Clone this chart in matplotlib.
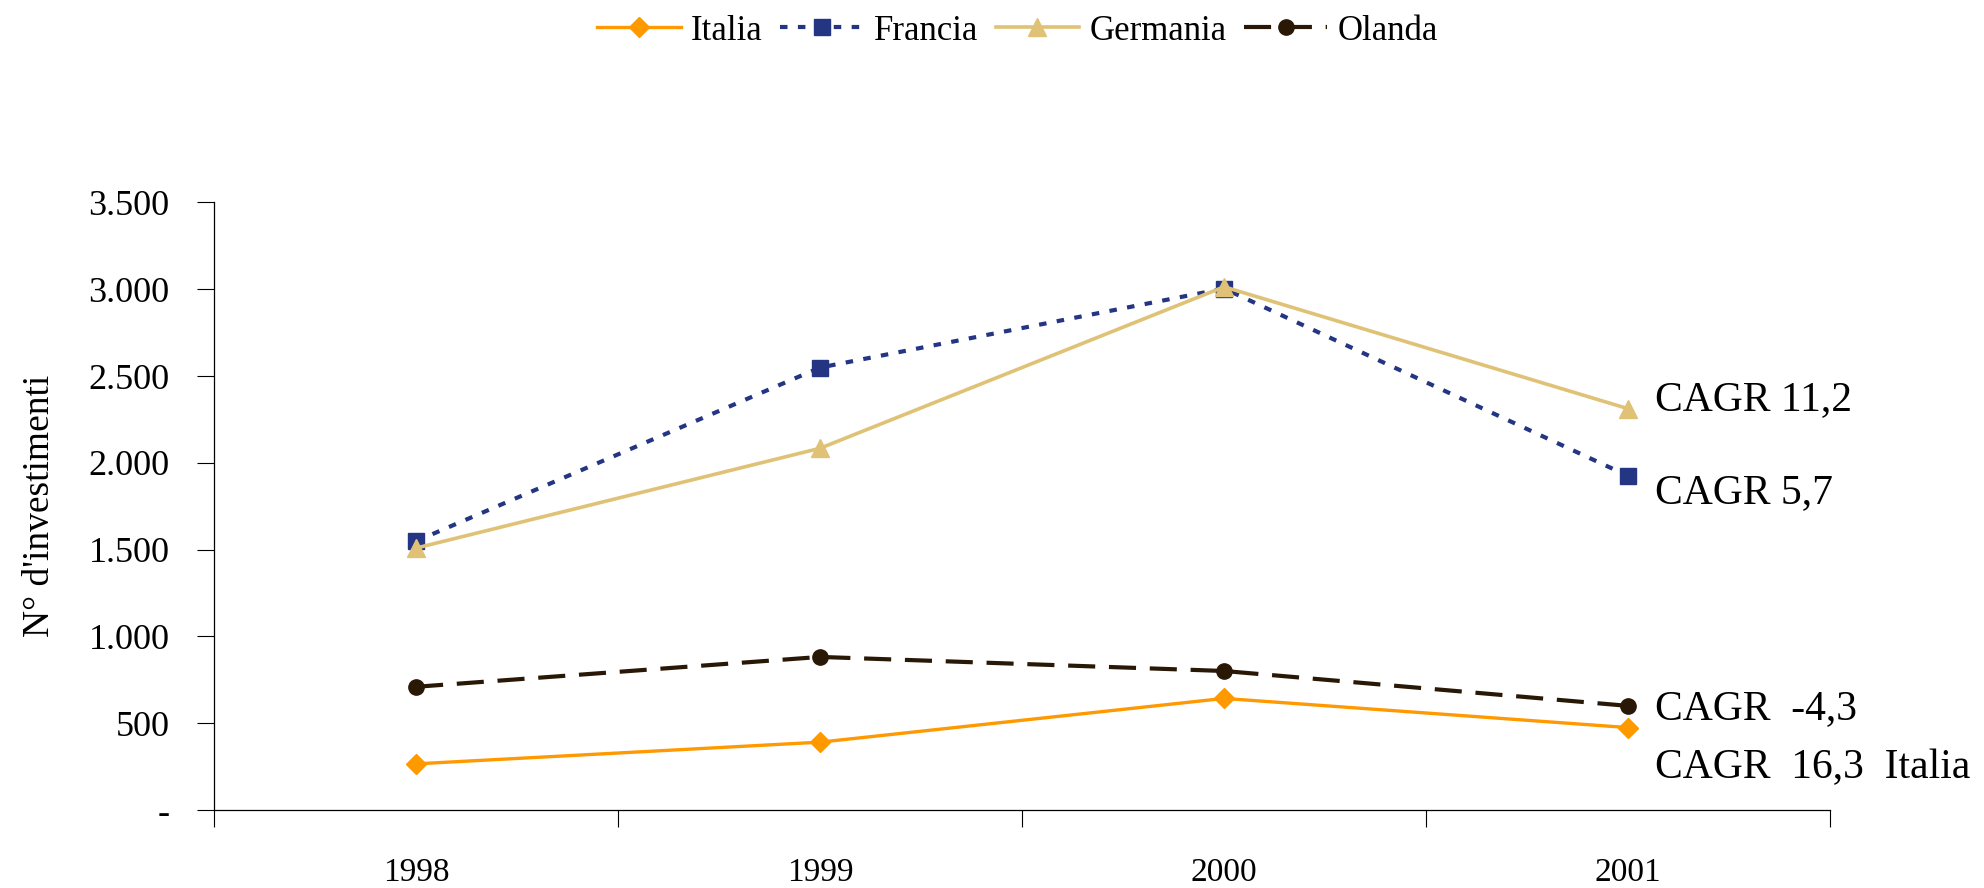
import matplotlib
matplotlib.use('Agg')
import matplotlib.pyplot as plt
from matplotlib.ticker import FixedLocator, FuncFormatter

plt.rcParams['font.family'] = ['Liberation Serif', 'DejaVu Serif']

# Data
anni = ['1998', '1999', '2000', '2001']
italia = [266, 391, 643, 475]
francia = [1549, 2549, 3004, 1925]
germania = [1509, 2084, 3014, 2312]
olanda = [710, 882, 801, 600]

# CAGR labels next to the last year
cagr_testi = ['CAGR 11,2', 'CAGR 5,7', 'CAGR  -4,3', 'CAGR  16,3  Italia']
cagr_y = [2362, 1826, 582, 242]

x = list(range(len(anni)))

fig = plt.figure(figsize=(19.84, 8.88), dpi=100)
ax = fig.add_axes([0.1079, 0.0878, 0.8145, 0.6842])

ax.plot(x, italia, color='#FF9900', lw=2.4, marker='D', ms=10,
        label='Italia')
ax.plot(x, francia, color='#233583', lw=3.0, marker='s', ms=11.5,
        dashes=(1.8, 2.5), label='Francia')
ax.plot(x, germania, color='#DFC276', lw=2.6, marker='^', ms=13,
        label='Germania')
ax.plot(x, olanda, color='#2A1806', lw=3.0, marker='o', ms=11,
        dashes=(6.5, 3.3), label='Olanda')

for testo, yv in zip(cagr_testi, cagr_y):
    ax.text(3.067, yv, testo, fontsize=30, va='center', ha='left')

ax.set_xlim(-0.5, 3.5)
ax.set_ylim(0, 3500)

# year labels between tick marks
ax.xaxis.set_major_locator(FixedLocator([-0.5, 0.5, 1.5, 2.5, 3.5]))
ax.xaxis.set_major_formatter(FuncFormatter(lambda v, p: ''))
ax.set_xticks(x, anni, minor=True)
ax.tick_params(axis='x', which='major', direction='out', length=12, width=0.8)
ax.tick_params(axis='x', which='minor', length=0, pad=34, labelsize=24)

ax.set_yticks(range(0, 3501, 500))
ax.yaxis.set_major_formatter(FuncFormatter(
    lambda v, p: '-' if v == 0 else f'{int(v):,}'.replace(',', '.')))
ax.tick_params(axis='y', direction='out', length=12, width=0.8, pad=20,
               labelsize=26)

ax.set_ylabel("N° d'investimenti", fontsize=27)
ax.yaxis.set_label_coords(-0.0972, 0.5)

for s in ['top', 'right']:
    ax.spines[s].set_visible(False)
ax.spines['left'].set_linewidth(0.9)
ax.spines['bottom'].set_linewidth(0.9)

handles, labels = ax.get_legend_handles_labels()
fig.legend(handles, labels, loc='center', bbox_to_anchor=(0.513, 0.965),
           ncol=4, frameon=False, fontsize=25, handlelength=2.4,
           handletextpad=0.3, columnspacing=0.5)

fig.savefig('out.png', dpi=100)
